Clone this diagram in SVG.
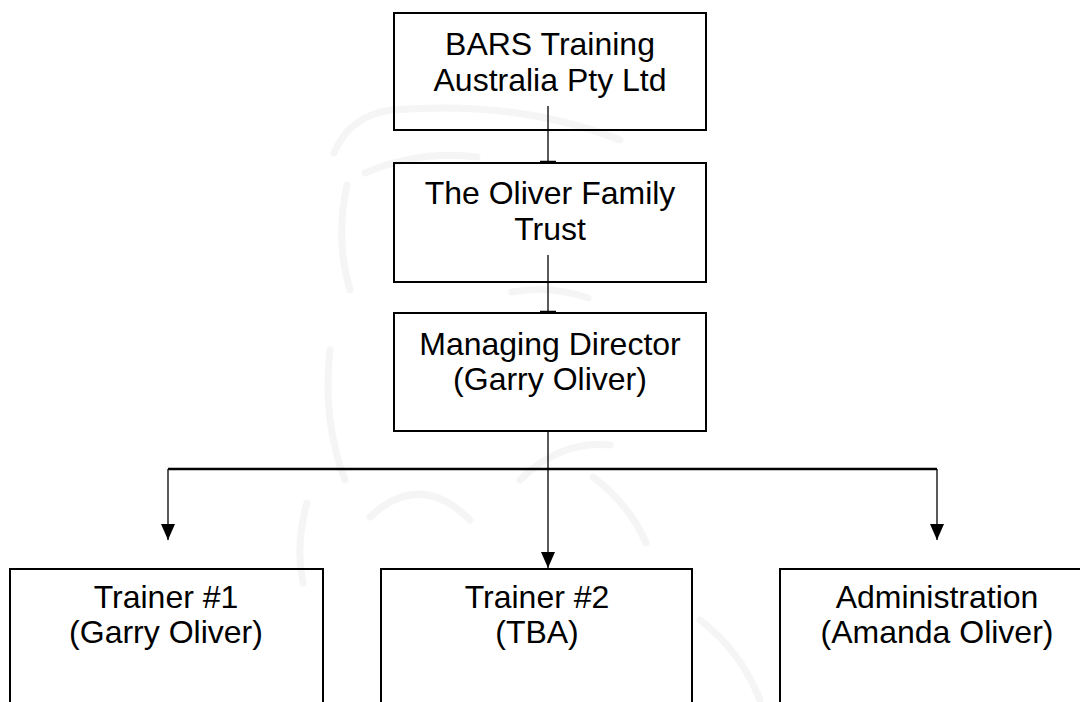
<svg xmlns="http://www.w3.org/2000/svg" width="1080" height="702" viewBox="0 0 1080 702">
  <style>
    .box { fill: none; stroke: #000000; stroke-width: 2; }
    .lbl { font-family: "Liberation Sans", Arial, sans-serif; font-size: 32px; fill: #000000; text-anchor: middle; }
    .wire { stroke: #000000; stroke-width: 1.3; fill: none; }
    .branch { stroke: #000000; stroke-width: 2.4; fill: none; }
    .wm { stroke: #f5f5f5; stroke-width: 7; fill: none; stroke-linecap: round; stroke-linejoin: round; }
  </style>
  <defs>
    <marker id="arrow" markerUnits="userSpaceOnUse" markerWidth="16" markerHeight="14" refX="16" refY="7" orient="auto" viewBox="0 0 16 14">
      <path d="M0,0 L16,7 L0,14 Z" fill="#000000"/>
    </marker>
    <marker id="tee" markerUnits="userSpaceOnUse" markerWidth="4" markerHeight="18" refX="2" refY="9" orient="auto" viewBox="0 0 4 18">
      <line x1="2" y1="1" x2="2" y2="17" stroke="#000000" stroke-width="2.5"/>
    </marker>
  </defs>
  <rect x="0" y="0" width="1080" height="702" fill="#ffffff"/>

  <g id="watermark">
    <path class="wm" d="M334,153 Q350,115 392,110 Q520,100 620,140"/>
    <path class="wm" d="M365,173 Q420,150 477,157"/>
    <path class="wm" d="M347,185 Q335,240 350,290"/>
    <path class="wm" d="M512,292 Q550,285 588,298"/>
    <path class="wm" d="M330,350 Q322,420 345,480"/>
    <path class="wm" d="M307,503 Q295,545 303,583"/>
    <path class="wm" d="M370,517 Q420,470 470,520"/>
    <path class="wm" d="M593,477 Q630,505 646,543"/>
    <path class="wm" d="M520,480 Q560,440 610,445"/>
    <path class="wm" d="M700,620 Q740,650 760,700"/>
  </g>

  <g id="connectors">
    <line class="wire" x1="548" y1="106" x2="548" y2="162" marker-end="url(#tee)"/>
    <line class="wire" x1="548" y1="255" x2="548" y2="312" marker-end="url(#tee)"/>
    <line class="wire" x1="548" y1="431" x2="548" y2="568" marker-end="url(#arrow)"/>
    <line class="branch" x1="168" y1="469" x2="937" y2="469"/>
    <line class="wire" x1="168" y1="469" x2="168" y2="540" marker-end="url(#arrow)"/>
    <line class="wire" x1="937" y1="469" x2="937" y2="540" marker-end="url(#arrow)"/>
  </g>

  <g id="node-bars">
    <rect class="box" x="394" y="13" width="312" height="117"/>
    <text class="lbl" x="550" y="55">BARS Training</text>
    <text class="lbl" x="550" y="91">Australia Pty Ltd</text>
  </g>
  <g id="node-trust">
    <rect class="box" x="394" y="163" width="312" height="119"/>
    <text class="lbl" x="550" y="204">The Oliver Family</text>
    <text class="lbl" x="550" y="240">Trust</text>
  </g>
  <g id="node-md">
    <rect class="box" x="394" y="313" width="312" height="118"/>
    <text class="lbl" x="550" y="355">Managing Director</text>
    <text class="lbl" x="550" y="390">(Garry Oliver)</text>
  </g>
  <g id="node-trainer1">
    <rect class="box" x="10" y="569" width="313" height="150"/>
    <text class="lbl" x="166" y="608">Trainer #1</text>
    <text class="lbl" x="166" y="643">(Garry Oliver)</text>
  </g>
  <g id="node-trainer2">
    <rect class="box" x="381" y="569" width="311" height="150"/>
    <text class="lbl" x="537" y="608">Trainer #2</text>
    <text class="lbl" x="537" y="643">(TBA)</text>
  </g>
  <g id="node-admin">
    <rect class="box" x="780" y="569" width="313" height="150"/>
    <text class="lbl" x="937" y="608">Administration</text>
    <text class="lbl" x="937" y="643">(Amanda Oliver)</text>
  </g>
</svg>
